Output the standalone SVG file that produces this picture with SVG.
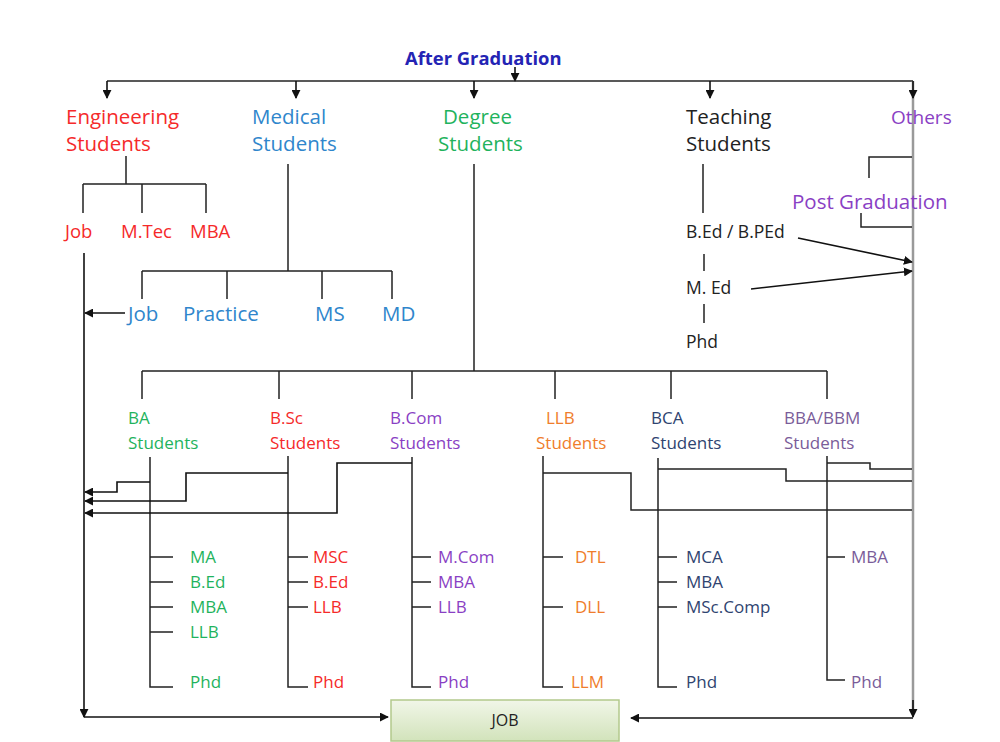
<svg xmlns="http://www.w3.org/2000/svg" width="1000" height="742" viewBox="0 0 1000 742">
<defs>
<marker id="ah" viewBox="0 0 10 10" refX="9" refY="5" markerWidth="9" markerHeight="9" markerUnits="userSpaceOnUse" orient="auto"><path d="M0,0 L10,5 L0,10 z" fill="#111"/></marker>
<linearGradient id="jobg" x1="0" y1="0" x2="0" y2="1"><stop offset="0" stop-color="#f1f6e8"/><stop offset="1" stop-color="#d2e3bb"/></linearGradient>
<style>
.t{font-family:"Open Sans","Liberation Sans",sans-serif;}
.L{font-size:20.5px;}
.M{font-size:18.5px;}
.S{font-size:17px;}
.T{font-size:17.5px;}
.ln{fill:none;stroke:#222;stroke-width:1.5;}
.ar{fill:none;stroke:#111;stroke-width:1.6;marker-end:url(#ah);}
.red{fill:#f52a2a;}.blu{fill:#2f86cc;}.grn{fill:#1fb35d;}.blk{fill:#222;}.pur{fill:#8a3fc4;}.org{fill:#ef7d2c;}.nav{fill:#2f4470;}.pgr{fill:#7a5c99;}
</style>
</defs>
<rect width="1000" height="742" fill="#fff"/>
<g id="connectors">
<path class="ar" d="M515,67 V81"/>
<path class="ln" d="M107,81 H913"/>
<path class="ar" d="M107,81 V98"/>
<path class="ar" d="M296,81 V98"/>
<path class="ar" d="M474,81 V98"/>
<path class="ar" d="M710,81 V98"/>
<path d="M913,81 V710" fill="none" stroke="#9a9a9a" stroke-width="2.5"/>
<path class="ar" d="M913,81 V98"/>
<path class="ar" d="M913,700 V717"/>
<path class="ar" d="M913,718 H631"/>
<path class="ln" d="M126,156 V184 M83,184 H206 M83,184 V213 M142,184 V213 M206,184 V213"/>
<path class="ar" d="M84,253 V717"/>
<path class="ar" d="M84,717 H388"/>
<path class="ln" d="M288,164 V271 M142,271 H392 M142,271 V299 M227,271 V299 M322,271 V299 M392,271 V299"/>
<path class="ar" d="M125,313 H85"/>
<path class="ln" d="M474,164 V371 M142,371 H827 M142,371 V399 M279,371 V399 M412,371 V399 M555,371 V399 M671,371 V399 M827,371 V399"/>
<path class="ln" d="M150,457 V687 H173 M150,557 H173 M150,582 H173 M150,607 H173 M150,632 H173"/>
<path class="ln" d="M288,456 V687 H308 M288,557 H308 M288,582 H308 M288,607 H308"/>
<path class="ln" d="M412,457 V687 H431 M412,557 H431 M412,582 H431 M412,607 H431"/>
<path class="ln" d="M543,456 V687 H563 M543,557 H563 M543,607 H563"/>
<path class="ln" d="M658,458 V687 H677 M658,557 H677 M658,582 H677 M658,607 H677"/>
<path class="ln" d="M827,456 V680 H845 M827,557 H845"/>
<path class="ar" d="M150,482 H117 V492 H85"/>
<path class="ar" d="M288,473 H186 V501 H85"/>
<path class="ar" d="M412,463 H337 V513 H85"/>
<path class="ln" d="M543,473 H631 V510 H912 M658,469 H786 V481 H912 M827,463 H870 V469 H912"/>
<path class="ln" d="M703,164 V213 M704,254 V271 M704,304 V323"/>
<path class="ar" d="M798,238 L912,262"/>
<path class="ar" d="M751,289 L912,271"/>
<path class="ln" d="M912,157 H869 V178 M861,213 V227 H912"/>
</g>
<g id="after-graduation"><text class="t" x="405" y="65" font-size="18.4" font-weight="bold" fill="#2424b4">After Graduation</text></g>
<g id="engineering" class="t L red"><text x="66" y="124">Engineering</text><text x="66" y="151">Students</text></g>
<g id="medical" class="t L blu"><text x="252" y="124">Medical</text><text x="252" y="151">Students</text></g>
<g id="degree" class="t L grn"><text x="443" y="124">Degree</text><text x="438" y="151">Students</text></g>
<g id="teaching" class="t L blk"><text x="686" y="124">Teaching</text><text x="686" y="151">Students</text></g>
<g id="others" class="t pur" font-size="19"><text x="891" y="124">Others</text></g>
<g id="eng-sub" class="t M red"><text x="65" y="238">Job</text><text x="121" y="238">M.Tec</text><text x="190" y="238">MBA</text></g>
<g id="med-sub" class="t L blu"><text x="128" y="321">Job</text><text x="183" y="321">Practice</text><text x="315" y="321">MS</text><text x="382" y="321">MD</text></g>
<g id="teach-sub" class="t T blk"><text x="686" y="238">B.Ed / B.PEd</text><text x="686" y="294">M. Ed</text><text x="686" y="348">Phd</text></g>
<g id="post-graduation" class="t L pur"><text x="792" y="209">Post Graduation</text></g>
<g id="ba" class="t S grn"><text x="128" y="424">BA</text><text x="128" y="449">Students</text><text x="190" y="563">MA</text><text x="190" y="588">B.Ed</text><text x="190" y="613">MBA</text><text x="190" y="638">LLB</text><text x="190" y="688">Phd</text></g>
<g id="bsc" class="t S red"><text x="270" y="424">B.Sc</text><text x="270" y="449">Students</text><text x="313" y="563">MSC</text><text x="313" y="588">B.Ed</text><text x="313" y="613">LLB</text><text x="313" y="688">Phd</text></g>
<g id="bcom" class="t S pur"><text x="390" y="424">B.Com</text><text x="390" y="449">Students</text><text x="438" y="563">M.Com</text><text x="438" y="588">MBA</text><text x="438" y="613">LLB</text><text x="438" y="688">Phd</text></g>
<g id="llb" class="t S org"><text x="546" y="424">LLB</text><text x="536" y="449">Students</text><text x="575" y="563">DTL</text><text x="575" y="613">DLL</text><text x="571" y="688">LLM</text></g>
<g id="bca" class="t S nav"><text x="651" y="424">BCA</text><text x="651" y="449">Students</text><text x="686" y="563">MCA</text><text x="686" y="588">MBA</text><text x="686" y="613">MSc.Comp</text><text x="686" y="688">Phd</text></g>
<g id="bba" class="t S pgr"><text x="784" y="424">BBA/BBM</text><text x="784" y="449">Students</text><text x="851" y="563">MBA</text><text x="851" y="688">Phd</text></g>
<g id="job"><rect x="391" y="700" width="228" height="41" fill="url(#jobg)" stroke="#b3c98c" stroke-width="1.5"/><text class="t" x="505" y="726" font-size="16" fill="#222" text-anchor="middle">JOB</text></g>
</svg>
